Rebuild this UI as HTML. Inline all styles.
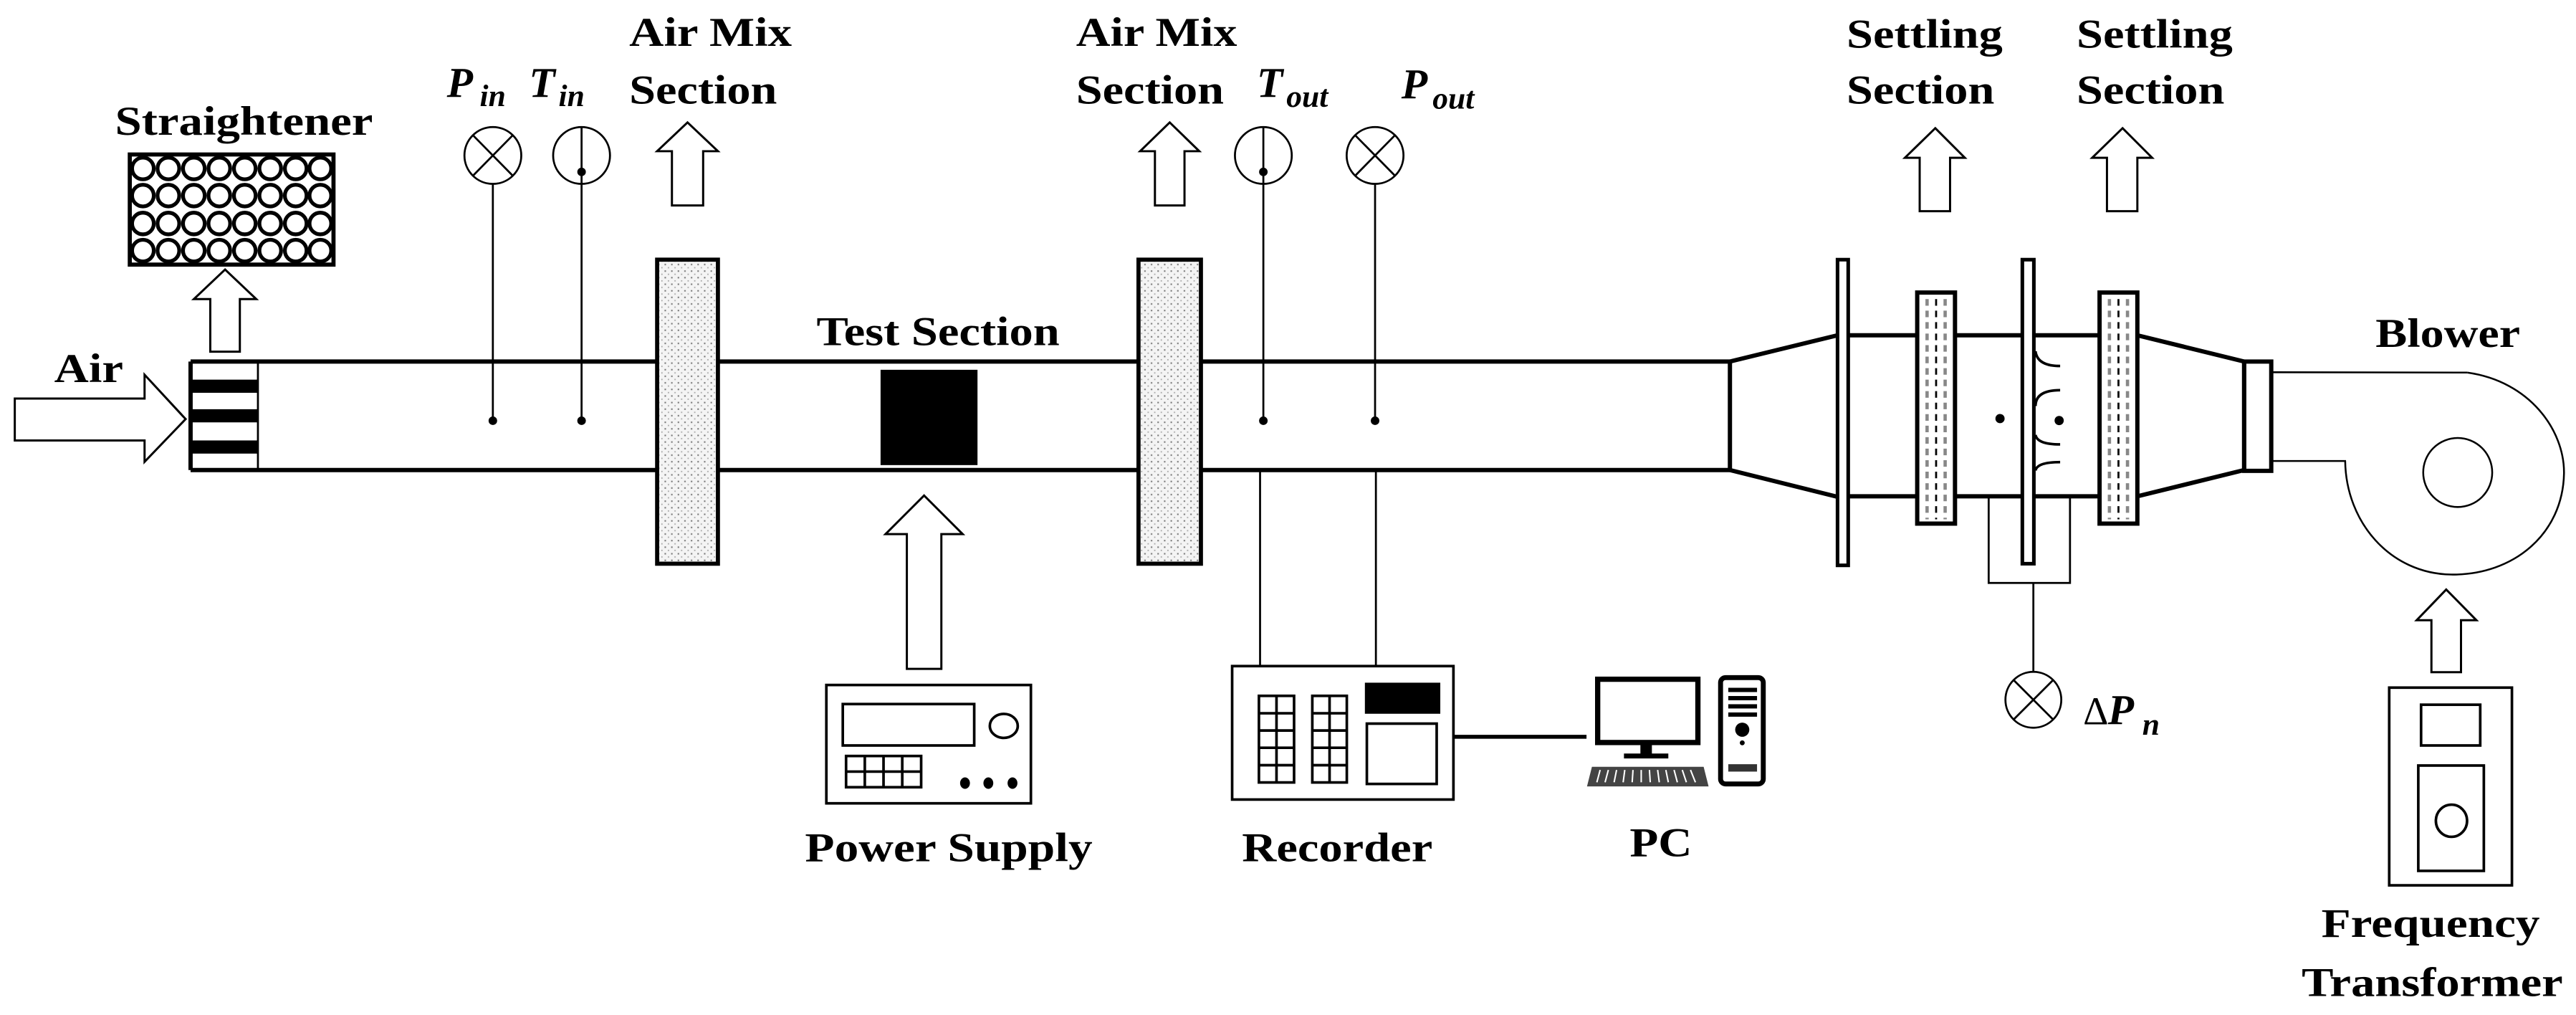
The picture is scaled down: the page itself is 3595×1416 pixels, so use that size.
<!DOCTYPE html>
<html><head><meta charset="utf-8"><style>
html,body{margin:0;padding:0;background:#fff;}
svg{display:block;}
text{font-family:"Liberation Serif",serif;font-weight:bold;fill:#000;}
.it{font-style:italic;}
</style></head><body>
<svg width="3595" height="1416" viewBox="0 0 1568 617.6" preserveAspectRatio="none" xmlns="http://www.w3.org/2000/svg">
<defs>
<pattern id="st" width="4" height="4" patternUnits="userSpaceOnUse">
<rect width="4" height="4" fill="#f4f4f4"/>
<rect x="0.5" y="0.5" width="0.9" height="0.9" fill="#777"/>
<rect x="2.5" y="2.5" width="0.8" height="0.8" fill="#aaa"/>
</pattern>
</defs>
<g fill="none" stroke="#000">
<!-- Labels -->
</g>
<text x="70" y="82" font-size="25" textLength="157" lengthAdjust="spacingAndGlyphs">Straightener</text>
<text x="33" y="232.5" font-size="25" textLength="42" lengthAdjust="spacingAndGlyphs">Air</text>
<text x="383" y="28" font-size="25" textLength="99" lengthAdjust="spacingAndGlyphs">Air Mix</text>
<text x="383" y="63" font-size="25" textLength="90" lengthAdjust="spacingAndGlyphs">Section</text>
<text x="655" y="28" font-size="25" textLength="98" lengthAdjust="spacingAndGlyphs">Air Mix</text>
<text x="655" y="63" font-size="25" textLength="90" lengthAdjust="spacingAndGlyphs">Section</text>
<text x="497" y="210" font-size="25" textLength="148" lengthAdjust="spacingAndGlyphs">Test Section</text>
<text x="1124" y="29" font-size="25" textLength="95" lengthAdjust="spacingAndGlyphs">Settling</text>
<text x="1124" y="63" font-size="25" textLength="90" lengthAdjust="spacingAndGlyphs">Section</text>
<text x="1264" y="29" font-size="25" textLength="95" lengthAdjust="spacingAndGlyphs">Settling</text>
<text x="1264" y="63" font-size="25" textLength="90" lengthAdjust="spacingAndGlyphs">Section</text>
<text x="1446" y="211" font-size="25" textLength="88" lengthAdjust="spacingAndGlyphs">Blower</text>
<text x="490" y="524" font-size="25" textLength="175" lengthAdjust="spacingAndGlyphs">Power Supply</text>
<text x="756" y="524" font-size="25" textLength="116" lengthAdjust="spacingAndGlyphs">Recorder</text>
<text x="992" y="521" font-size="25" textLength="38" lengthAdjust="spacingAndGlyphs">PC</text>
<text x="1413" y="570" font-size="25" textLength="133" lengthAdjust="spacingAndGlyphs">Frequency</text>
<text x="1401" y="606" font-size="25" textLength="159" lengthAdjust="spacingAndGlyphs">Transformer</text>
<text class="it" x="272" y="59" font-size="26">P</text><text class="it" x="292" y="64.5" font-size="19">in</text>
<text class="it" x="322" y="59" font-size="26">T</text><text class="it" x="340" y="64.5" font-size="19">in</text>
<text class="it" x="765" y="59" font-size="26">T</text><text class="it" x="783" y="65" font-size="19">out</text>
<text class="it" x="853" y="60" font-size="26">P</text><text class="it" x="872" y="66" font-size="19">out</text>
<text x="1268" y="440.7" font-size="24" font-weight="normal" style="font-weight:normal">Δ</text><text class="it" x="1283" y="440.7" font-size="26">P</text><text class="it" x="1304" y="447" font-size="19">n</text>

<g fill="none" stroke="#000">
<!-- straightener -->
<rect x="79" y="94" width="124" height="67" fill="#fff" stroke-width="2.5"/>
<g fill="#fff" stroke-width="2.3">
<circle cx="87" cy="102.5" r="6.6"/><circle cx="102.5" cy="102.5" r="6.6"/><circle cx="118" cy="102.5" r="6.6"/><circle cx="133.5" cy="102.5" r="6.6"/><circle cx="149" cy="102.5" r="6.6"/><circle cx="164.5" cy="102.5" r="6.6"/><circle cx="180" cy="102.5" r="6.6"/><circle cx="195" cy="102.5" r="6.6"/>
<circle cx="87" cy="119" r="6.6"/><circle cx="102.5" cy="119" r="6.6"/><circle cx="118" cy="119" r="6.6"/><circle cx="133.5" cy="119" r="6.6"/><circle cx="149" cy="119" r="6.6"/><circle cx="164.5" cy="119" r="6.6"/><circle cx="180" cy="119" r="6.6"/><circle cx="195" cy="119" r="6.6"/>
<circle cx="87" cy="136" r="6.6"/><circle cx="102.5" cy="136" r="6.6"/><circle cx="118" cy="136" r="6.6"/><circle cx="133.5" cy="136" r="6.6"/><circle cx="149" cy="136" r="6.6"/><circle cx="164.5" cy="136" r="6.6"/><circle cx="180" cy="136" r="6.6"/><circle cx="195" cy="136" r="6.6"/>
<circle cx="87" cy="152.5" r="6.6"/><circle cx="102.5" cy="152.5" r="6.6"/><circle cx="118" cy="152.5" r="6.6"/><circle cx="133.5" cy="152.5" r="6.6"/><circle cx="149" cy="152.5" r="6.6"/><circle cx="164.5" cy="152.5" r="6.6"/><circle cx="180" cy="152.5" r="6.6"/><circle cx="195" cy="152.5" r="6.6"/>
</g>
<!-- arrows -->
<g stroke-width="1.3" fill="#fff">
<polygon points="9,242.5 88,242.5 88,228 113,255 88,281 88,268 9,268"/>
<polygon points="137,164 156,182 146,182 146,214 128,214 128,182 118,182"/>
<polygon points="418.5,74.5 437,92 428,92 428,125 409,125 409,92 400,92"/>
<polygon points="712,74.5 730,92 721,92 721,125 703,125 703,92 694,92"/>
<polygon points="562.5,301.5 586,325 573,325 573,407 552,407 552,325 539,325"/>
<polygon points="1178,78 1196,96 1187,96 1187,128.5 1168.5,128.5 1168.5,96 1159.5,96"/>
<polygon points="1292,78 1310,96 1301,96 1301,128.5 1282.5,128.5 1282.5,96 1273.5,96"/>
<polygon points="1489,358.7 1507.4,377.4 1498,377.4 1498,409 1480,409 1480,377.4 1471,377.4"/>
</g>
<!-- duct -->
<g stroke-width="2.6">
<line x1="116" y1="220" x2="400" y2="220"/><line x1="116" y1="286" x2="400" y2="286"/>
<line x1="437" y1="220" x2="693" y2="220"/><line x1="437" y1="286" x2="693" y2="286"/>
<line x1="732" y1="220" x2="1053" y2="220"/><line x1="732" y1="286" x2="1053" y2="286"/>
<line x1="116" y1="220" x2="116" y2="286"/>
<line x1="1053" y1="220" x2="1053" y2="286"/>
<line x1="1053" y1="220" x2="1118.5" y2="204"/><line x1="1053" y1="286" x2="1118.5" y2="302.3"/>
<line x1="1125" y1="204" x2="1278" y2="204"/><line x1="1125" y1="302" x2="1278" y2="302"/>
<line x1="1301" y1="204" x2="1366" y2="220"/><line x1="1301" y1="302" x2="1366" y2="286"/>
</g>
<line x1="157" y1="220" x2="157" y2="286" stroke-width="1.2"/>
<g fill="#000" stroke="none">
<rect x="116" y="231" width="41" height="8"/><rect x="116" y="249" width="41" height="8"/><rect x="116" y="268" width="41" height="8"/>
<rect x="536" y="225" width="59" height="58"/>
</g>
<!-- air mix boxes -->
<rect x="400" y="158" width="37" height="185" fill="url(#st)" stroke-width="2.5"/>
<rect x="693" y="158" width="38" height="185" fill="url(#st)" stroke-width="2.5"/>
<!-- gauges -->
<g stroke-width="1.2">
<circle cx="300" cy="94.6" r="17.3" fill="#fff"/><line x1="288" y1="82.4" x2="312" y2="106.8"/><line x1="312" y1="82.4" x2="288" y2="106.8"/>
<line x1="300" y1="112" x2="300" y2="256"/>
<circle cx="354" cy="94.6" r="17.3"/><line x1="354" y1="77.3" x2="354" y2="256"/>
<circle cx="769" cy="94.6" r="17.3"/><line x1="769" y1="77.3" x2="769" y2="256"/>
<circle cx="837" cy="94.6" r="17.3"/><line x1="825" y1="82.4" x2="849" y2="106.8"/><line x1="849" y1="82.4" x2="825" y2="106.8"/>
<line x1="837" y1="112" x2="837" y2="256"/>
<line x1="767" y1="286" x2="767" y2="405"/><line x1="837.5" y1="286" x2="837.5" y2="405"/>
<circle cx="1237.7" cy="425.8" r="17" fill="#fff"/><line x1="1225.7" y1="413.8" x2="1249.7" y2="437.8"/><line x1="1249.7" y1="413.8" x2="1225.7" y2="437.8"/>
<line x1="1237.7" y1="354.7" x2="1237.7" y2="408.8"/>
<polyline points="1210.5,302 1210.5,354.7 1260,354.7 1260,302"/>
</g>
<g fill="#000" stroke="none">
<circle cx="300" cy="256" r="2.6"/><circle cx="354" cy="256" r="2.6"/><circle cx="354" cy="104.6" r="2.6"/>
<circle cx="769" cy="256" r="2.6"/><circle cx="769" cy="104.6" r="2.6"/><circle cx="837" cy="256" r="2.6"/>
<circle cx="1217.4" cy="254.7" r="2.8"/><circle cx="1253.4" cy="255.9" r="2.8"/>
</g>
<!-- plates & screens -->
<rect x="1118.5" y="158" width="6.5" height="186" fill="#fff" stroke-width="2.2"/>
<rect x="1231" y="158" width="7" height="185" fill="#fff" stroke-width="2.2"/>
<rect x="1167" y="178" width="23" height="140.6" fill="#fff" stroke-width="2.6"/>
<rect x="1278" y="178" width="23" height="140.6" fill="#fff" stroke-width="2.6"/>
<g stroke-width="1.2" stroke-dasharray="4,3">
<line x1="1173" y1="182" x2="1173" y2="316" stroke="#888" stroke-width="2"/><line x1="1178.5" y1="182" x2="1178.5" y2="316"/><line x1="1184" y1="182" x2="1184" y2="316" stroke="#888" stroke-width="2"/>
<line x1="1284" y1="182" x2="1284" y2="316" stroke="#888" stroke-width="2"/><line x1="1289.5" y1="182" x2="1289.5" y2="316"/><line x1="1295" y1="182" x2="1295" y2="316" stroke="#888" stroke-width="2"/>
</g>
<g stroke-width="1.6">
<path d="M1239,213.7 Q1240,222.7 1254,222.7"/>
<path d="M1254,237.4 Q1239,237.4 1239,247.1"/>
<path d="M1239,264.6 Q1240,270.4 1254,270.4"/>
<path d="M1254,281.2 Q1240,281.2 1239,286.3"/>
</g>
<!-- blower -->
<rect x="1366" y="220" width="16.5" height="66.5" fill="#fff" stroke-width="2.6"/>
<line x1="1366" y1="220" x2="1366" y2="286.5" stroke-width="2.6"/>
<g stroke-width="1.1">
<polyline points="1383,226.5 1501.8,226.7"/>
<path d="M1501.8,226.7 C1540,232 1561,262 1560.7,288 C1560,325 1530,350 1492,349.6 C1455,349 1428,318 1427.5,280.5"/>
<polyline points="1383,280.5 1428,280.5"/>
<ellipse cx="1496" cy="287.5" rx="21" ry="21"/>
</g>
<!-- power supply -->
<g stroke-width="1.6">
<rect x="503" y="416.8" width="124.5" height="72" fill="#fff"/>
<rect x="513" y="428.4" width="80" height="25.2"/>
<ellipse cx="611" cy="441.7" rx="8.5" ry="7.3"/>
<rect x="515" y="460" width="45.7" height="19"/>
<line x1="526.4" y1="460" x2="526.4" y2="479"/><line x1="537.8" y1="460" x2="537.8" y2="479"/><line x1="549.2" y1="460" x2="549.2" y2="479"/>
<line x1="515" y1="469.5" x2="560.7" y2="469.5"/>
</g>
<g fill="#000" stroke="none"><ellipse cx="587.4" cy="476.5" rx="3" ry="3.5"/><ellipse cx="601.6" cy="476.5" rx="3" ry="3.5"/><ellipse cx="616.3" cy="476.5" rx="3" ry="3.5"/></g>
<!-- recorder -->
<g stroke-width="1.6">
<rect x="750" y="405.3" width="134.7" height="81.2" fill="#fff"/>
<rect x="766.3" y="423.4" width="21.4" height="52.7"/><line x1="777" y1="423.4" x2="777" y2="476.1"/>
<rect x="798.8" y="423.4" width="21" height="52.7"/><line x1="809.3" y1="423.4" x2="809.3" y2="476.1"/>
<line x1="766.3" y1="434" x2="787.7" y2="434"/><line x1="766.3" y1="444.5" x2="787.7" y2="444.5"/><line x1="766.3" y1="455" x2="787.7" y2="455"/><line x1="766.3" y1="465.6" x2="787.7" y2="465.6"/>
<line x1="798.8" y1="434" x2="819.8" y2="434"/><line x1="798.8" y1="444.5" x2="819.8" y2="444.5"/><line x1="798.8" y1="455" x2="819.8" y2="455"/><line x1="798.8" y1="465.6" x2="819.8" y2="465.6"/>
<rect x="832" y="440.3" width="42.5" height="36.7"/>
</g>
<rect x="830.8" y="415.4" width="45.9" height="18.9" fill="#000" stroke="none"/>
<line x1="884.7" y1="448.3" x2="965.7" y2="448.3" stroke-width="2.4"/>
<!-- PC -->
<rect x="972.5" y="413.3" width="61" height="38.5" fill="#fff" stroke-width="3.2"/>
<rect x="983" y="451.8" width="44" height="1" stroke="none"/>
<rect x="998.5" y="453" width="7" height="6" fill="#000" stroke="none"/>
<rect x="988.5" y="458.5" width="27" height="3" fill="#000" stroke="none"/>
<polygon points="969,466.6 1037,466.6 1040,478.5 966,478.5" fill="#444" stroke="none"/>
<g stroke="#fff" stroke-width="0.9"><line x1="974" y1="468.5" x2="972" y2="476"/><line x1="979" y1="468.5" x2="977" y2="476"/><line x1="984" y1="468.5" x2="982.5" y2="476"/><line x1="989" y1="468.5" x2="988" y2="476"/><line x1="994" y1="468.5" x2="993.5" y2="476"/><line x1="999" y1="468.5" x2="999" y2="476"/><line x1="1004" y1="468.5" x2="1004.5" y2="476"/><line x1="1009" y1="468.5" x2="1010" y2="476"/><line x1="1014" y1="468.5" x2="1015.5" y2="476"/><line x1="1019" y1="468.5" x2="1021" y2="476"/><line x1="1024" y1="468.5" x2="1026.5" y2="476"/><line x1="1029" y1="468.5" x2="1032" y2="476"/></g>
<rect x="1047.3" y="412.3" width="26" height="64.7" rx="3" fill="#fff" stroke-width="3"/>
<g fill="#000" stroke="none">
<rect x="1052" y="418.5" width="17.5" height="2.6"/><rect x="1052" y="423.5" width="17.5" height="2.6"/><rect x="1052" y="428.5" width="17.5" height="2.6"/><rect x="1052" y="433.5" width="17.5" height="2.6"/>
<circle cx="1060.5" cy="444" r="4.3"/><circle cx="1060.5" cy="452" r="1.5"/>
<rect x="1052" y="465" width="17.5" height="4.5" fill="#333"/>
</g>
<!-- frequency transformer -->
<g stroke-width="1.6">
<rect x="1454.3" y="418.4" width="74.7" height="120.3" fill="#fff"/>
<rect x="1473.7" y="428.8" width="36" height="24.8"/>
<rect x="1472" y="465.8" width="39.9" height="64.1"/>
<ellipse cx="1492.2" cy="499.4" rx="9.5" ry="9.8"/>
</g>
</g>
</svg>
</body></html>
